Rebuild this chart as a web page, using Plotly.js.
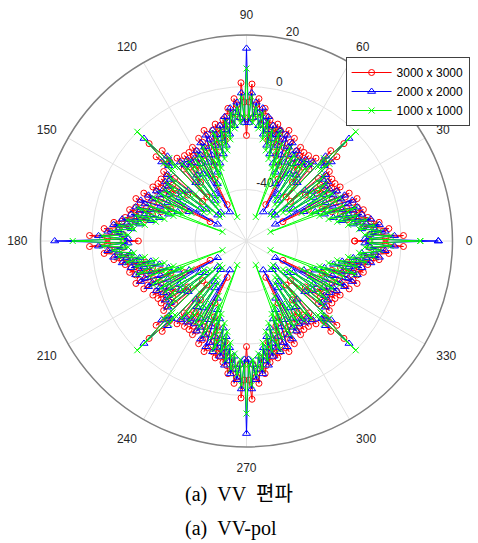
<!DOCTYPE html>
<html>
<head>
<meta charset="utf-8">
<script src="https://cdn.plot.ly/plotly-3.0.1.min.js"></script>
<style>html,body{margin:0;padding:0;background:#fff;}#chart{width:478px;height:543px;}</style>
</head>
<body>
<div id="chart"></div>
<script>
// Series names (legend)
const seriesNames = ["3000 x 3000", "2000 x 2000", "1000 x 1000"];
// Angle sampling (degrees)
const angleStart = 0;
const angleStep = 1;
// Angular tick labels
const angleTickVals = [0, 30, 60, 90, 120, 150, 180, 210, 240, 270, 300, 330];
const angleTickText = ["0", "30", "60", "90", "120", "150", "180", "210", "240", "270", "300", "330"];
// Radial tick labels (dB) and the angle where they are written
const radialTicks = [-40, -20, 0, 20];
const radialTickText = ["-40", "-20", "0", "20"];
const radialLabelAngle = 79;

// RCS values in dB, one value per degree, 0..360
const rcs3000 = [
-18,-6,1,-12,-7,-4.5,-10,-14,-8,-11,
-16,-12,-20,-14,-17,-13,-22,-15,-19,-25,
-16,-14,-21,-28,-18,-16,-23,-33,-44,-20,
-18,-25,-21,-19,-27,-22,-19,-24,-31,-20,
-18,-23,-37,-12,-17,-6.5,-17,-12,-37,-23,
-18,-20,-31,-24,-19,-22,-27,-19,-21,-25,
-18,-20,-44,-33,-23,-16,-18,-28,-21,-14,
-16,-25,-19,-15,-22,-13,-17,-14,-20,-12,
-16,-11,-8,-14,-10,-4.5,-7,-12,1,-6,
-19,-6,1.5,-12,-7,-4.5,-10,-14,-8,-11,
-16,-12,-20,-14,-17,-13,-22,-15,-19,-25,
-16,-14,-21,-28,-18,-16,-23,-33,-44,-20,
-18,-25,-21,-19,-27,-22,-19,-24,-31,-20,
-18,-23,-37,-12,-17,-6.5,-17,-12,-37,-23,
-18,-20,-31,-24,-19,-22,-27,-19,-21,-25,
-18,-20,-44,-33,-23,-16,-18,-28,-21,-14,
-16,-25,-19,-15,-22,-13,-17,-14,-20,-12,
-16,-11,-8,-14,-10,-4.5,-7,-12,1,-6,
-18,-6,1,-12,-7,-4.5,-10,-14,-8,-11,
-16,-12,-20,-14,-17,-13,-22,-15,-19,-25,
-16,-14,-21,-28,-18,-16,-23,-33,-44,-20,
-18,-25,-21,-19,-27,-22,-19,-24,-31,-20,
-18,-23,-37,-12,-17,-6.5,-17,-12,-37,-23,
-18,-20,-31,-24,-19,-22,-27,-19,-21,-25,
-18,-20,-44,-33,-23,-16,-18,-28,-21,-14,
-16,-25,-19,-15,-22,-13,-17,-14,-20,-12,
-16,-11,-8,-14,-10,-4.5,-7,-12,1,-6,
-19,-6,1.5,-12,-7,-4.5,-10,-14,-8,-11,
-16,-12,-20,-14,-17,-13,-22,-15,-19,-25,
-16,-14,-21,-28,-18,-16,-23,-33,-44,-20,
-18,-25,-21,-19,-27,-22,-19,-24,-31,-20,
-18,-23,-37,-12,-17,-6.5,-17,-12,-37,-23,
-18,-20,-31,-24,-19,-22,-27,-19,-21,-25,
-18,-20,-44,-33,-23,-16,-18,-28,-21,-14,
-16,-25,-19,-15,-22,-13,-17,-14,-20,-12,
-16,-11,-8,-14,-10,-4.5,-7,-12,1,-6,
-18];

const rcs2000 = [
14.5,-14,-2.5,-12,-6,-10,-15,-8,-13,-18,
-11,-16,-22,-14,-19,-25,-17,-15,-21,-28,
-18,-16,-24,-31,-20,-18,-26,-35,-22,-20,
-47,-25,-22,-29,-38,-23,-21,-28,-40,-22,
-20,-30,-45,-15,-18,-3.7,-18,-15,-45,-30,
-20,-22,-40,-28,-21,-23,-38,-29,-22,-25,
-47,-20,-22,-35,-26,-18,-20,-31,-24,-16,
-18,-28,-21,-15,-17,-25,-19,-14,-22,-16,
-11,-18,-13,-8,-15,-10,-6,-12,-2.5,-14,
14.8,-14,-2.5,-12,-6,-10,-15,-8,-13,-18,
-11,-16,-22,-14,-19,-25,-17,-15,-21,-28,
-18,-16,-24,-31,-20,-18,-26,-35,-22,-20,
-47,-25,-22,-29,-38,-23,-21,-28,-40,-22,
-20,-30,-45,-15,-18,-3.7,-18,-15,-45,-30,
-20,-22,-40,-28,-21,-23,-38,-29,-22,-25,
-47,-20,-22,-35,-26,-18,-20,-31,-24,-16,
-18,-28,-21,-15,-17,-25,-19,-14,-22,-16,
-11,-18,-13,-8,-15,-10,-6,-12,-2.5,-14,
14.5,-14,-2.5,-12,-6,-10,-15,-8,-13,-18,
-11,-16,-22,-14,-19,-25,-17,-15,-21,-28,
-18,-16,-24,-31,-20,-18,-26,-35,-22,-20,
-47,-25,-22,-29,-38,-23,-21,-28,-40,-22,
-20,-30,-45,-15,-18,-3.7,-18,-15,-45,-30,
-20,-22,-40,-28,-21,-23,-38,-29,-22,-25,
-47,-20,-22,-35,-26,-18,-20,-31,-24,-16,
-18,-28,-21,-15,-17,-25,-19,-14,-22,-16,
-11,-18,-13,-8,-15,-10,-6,-12,-2.5,-14,
14.8,-14,-2.5,-12,-6,-10,-15,-8,-13,-18,
-11,-16,-22,-14,-19,-25,-17,-15,-21,-28,
-18,-16,-24,-31,-20,-18,-26,-35,-22,-20,
-47,-25,-22,-29,-38,-23,-21,-28,-40,-22,
-20,-30,-45,-15,-18,-3.7,-18,-15,-45,-30,
-20,-22,-40,-28,-21,-23,-38,-29,-22,-25,
-47,-20,-22,-35,-26,-18,-20,-31,-24,-16,
-18,-28,-21,-15,-17,-25,-19,-14,-22,-16,
-11,-18,-13,-8,-15,-10,-6,-12,-2.5,-14,
14.5];

const rcs1000 = [
7.5,-12,-4,-14,-8,-11,-16,-10,-15,-20,
-13,-18,-24,-16,-21,-27,-19,-16,-23,-30,
-20,-50,-26,-33,-22,-20,-28,-36,-24,-22,
-32,-26,-23,-30,-40,-25,-22,-29,-42,-24,
-21,-33,-46,-16,-20,0,-20,-16,-46,-33,
-21,-24,-42,-29,-22,-25,-40,-30,-23,-26,
-32,-22,-24,-36,-28,-20,-22,-33,-26,-50,
-20,-30,-23,-16,-19,-27,-21,-16,-24,-18,
-13,-20,-15,-10,-16,-11,-8,-14,-4,-12,
7,-12,-4,-14,-8,-11,-16,-10,-15,-20,
-13,-18,-24,-16,-21,-27,-19,-16,-23,-30,
-20,-50,-26,-33,-22,-20,-28,-36,-24,-22,
-32,-26,-23,-30,-40,-25,-22,-29,-42,-24,
-21,-33,-46,-16,-20,0,-20,-16,-46,-33,
-21,-24,-42,-29,-22,-25,-40,-30,-23,-26,
-32,-22,-24,-36,-28,-20,-22,-33,-26,-50,
-20,-30,-23,-16,-19,-27,-21,-16,-24,-18,
-13,-20,-15,-10,-16,-11,-8,-14,-4,-12,
7.5,-12,-4,-14,-8,-11,-16,-10,-15,-20,
-13,-18,-24,-16,-21,-27,-19,-16,-23,-30,
-20,-50,-26,-33,-22,-20,-28,-36,-24,-22,
-32,-26,-23,-30,-40,-25,-22,-29,-42,-24,
-21,-33,-46,-16,-20,0,-20,-16,-46,-33,
-21,-24,-42,-29,-22,-25,-40,-30,-23,-26,
-32,-22,-24,-36,-28,-20,-22,-33,-26,-50,
-20,-30,-23,-16,-19,-27,-21,-16,-24,-18,
-13,-20,-15,-10,-16,-11,-8,-14,-4,-12,
7,-12,-4,-14,-8,-11,-16,-10,-15,-20,
-13,-18,-24,-16,-21,-27,-19,-16,-23,-30,
-20,-50,-26,-33,-22,-20,-28,-36,-24,-22,
-32,-26,-23,-30,-40,-25,-22,-29,-42,-24,
-21,-33,-46,-16,-20,0,-20,-16,-46,-33,
-21,-24,-42,-29,-22,-25,-40,-30,-23,-26,
-32,-22,-24,-36,-28,-20,-22,-33,-26,-50,
-20,-30,-23,-16,-19,-27,-21,-16,-24,-18,
-13,-20,-15,-10,-16,-11,-8,-14,-4,-12,
7.5];

const captionKo = "(a)\u00a0\u00a0VV\u00a0\u00a0편파";
const captionEn = "(a)\u00a0\u00a0VV-pol";

const sans = "Liberation Sans, Arial, Helvetica, sans-serif";
const serif = "Liberation Serif, 'Times New Roman', 'Noto Sans CJK KR', serif";

const styles = [
  {color: "#ff0000", symbol: "circle-open", size: 6},
  {color: "#0000ff", symbol: "triangle-up-open", size: 7},
  {color: "#00ff00", symbol: "x-thin-open", size: 6}
];
const values = [rcs3000, rcs2000, rcs1000];

// radial tick labels drawn first so the data lie over them
const labelTrace = {
  type: "scatterpolar",
  mode: "text",
  r: radialTicks,
  theta: radialTicks.map(() => radialLabelAngle),
  text: radialTickText,
  textposition: "top right",
  textfont: {family: sans, size: 12, color: "#262626"},
  showlegend: false,
  hoverinfo: "skip",
  cliponaxis: false
};

const traces = [labelTrace].concat(values.map((r, i) => ({
  type: "scatterpolar",
  mode: "lines+markers",
  r: r,
  theta0: angleStart,
  dtheta: angleStep,
  name: seriesNames[i],
  line: {color: styles[i].color, width: 1},
  marker: {symbol: styles[i].symbol, size: styles[i].size, color: styles[i].color, line: {color: styles[i].color, width: 1}},
  cliponaxis: true
})));

const layout = {
  width: 478, height: 543,
  margin: {l: 0, r: 0, t: 0, b: 0},
  paper_bgcolor: "#ffffff",
  showlegend: true,
  legend: {
    x: 0.723, y: 0.895, xanchor: "left", yanchor: "top",
    bgcolor: "#ffffff", bordercolor: "#404040", borderwidth: 1,
    itemwidth: 40,
    entrywidth: 118, entrywidthmode: "pixels",
    font: {family: sans, size: 12, color: "#000000"}
  },
  polar: {
    domain: {x: [0.0847, 0.9467], y: [0.1768, 0.9355]},
    bgcolor: "#ffffff",
    angularaxis: {
      rotation: 0, direction: "counterclockwise",
      tickmode: "array", tickvals: angleTickVals, ticktext: angleTickText,
      showline: true, linecolor: "#808080", linewidth: 1.5,
      showgrid: true, gridcolor: "#e2e2e2", gridwidth: 1,
      ticks: "outside", ticklen: 10, tickcolor: "rgba(0,0,0,0)",
      tickfont: {family: sans, size: 12, color: "#262626"},
      layer: "below traces"
    },
    radialaxis: {
      range: [-60, 20], tickmode: "array", tickvals: radialTicks,
      angle: 80, showticklabels: false,
      showline: false, ticks: "",
      showgrid: true, gridcolor: "#e2e2e2", gridwidth: 1,
      layer: "below traces"
    }
  },
  annotations: [
    {text: captionKo, xref: "paper", yref: "paper", x: 0.383, y: 0.0884, xanchor: "left", yanchor: "middle", showarrow: false, font: {family: serif, size: 20, color: "#000000"}},
    {text: captionEn, xref: "paper", yref: "paper", x: 0.383, y: 0.0276, xanchor: "left", yanchor: "middle", showarrow: false, font: {family: serif, size: 20, color: "#000000"}}
  ]
};

Plotly.newPlot("chart", traces, layout, {staticPlot: true, displayModeBar: false});
</script>
</body>
</html>
